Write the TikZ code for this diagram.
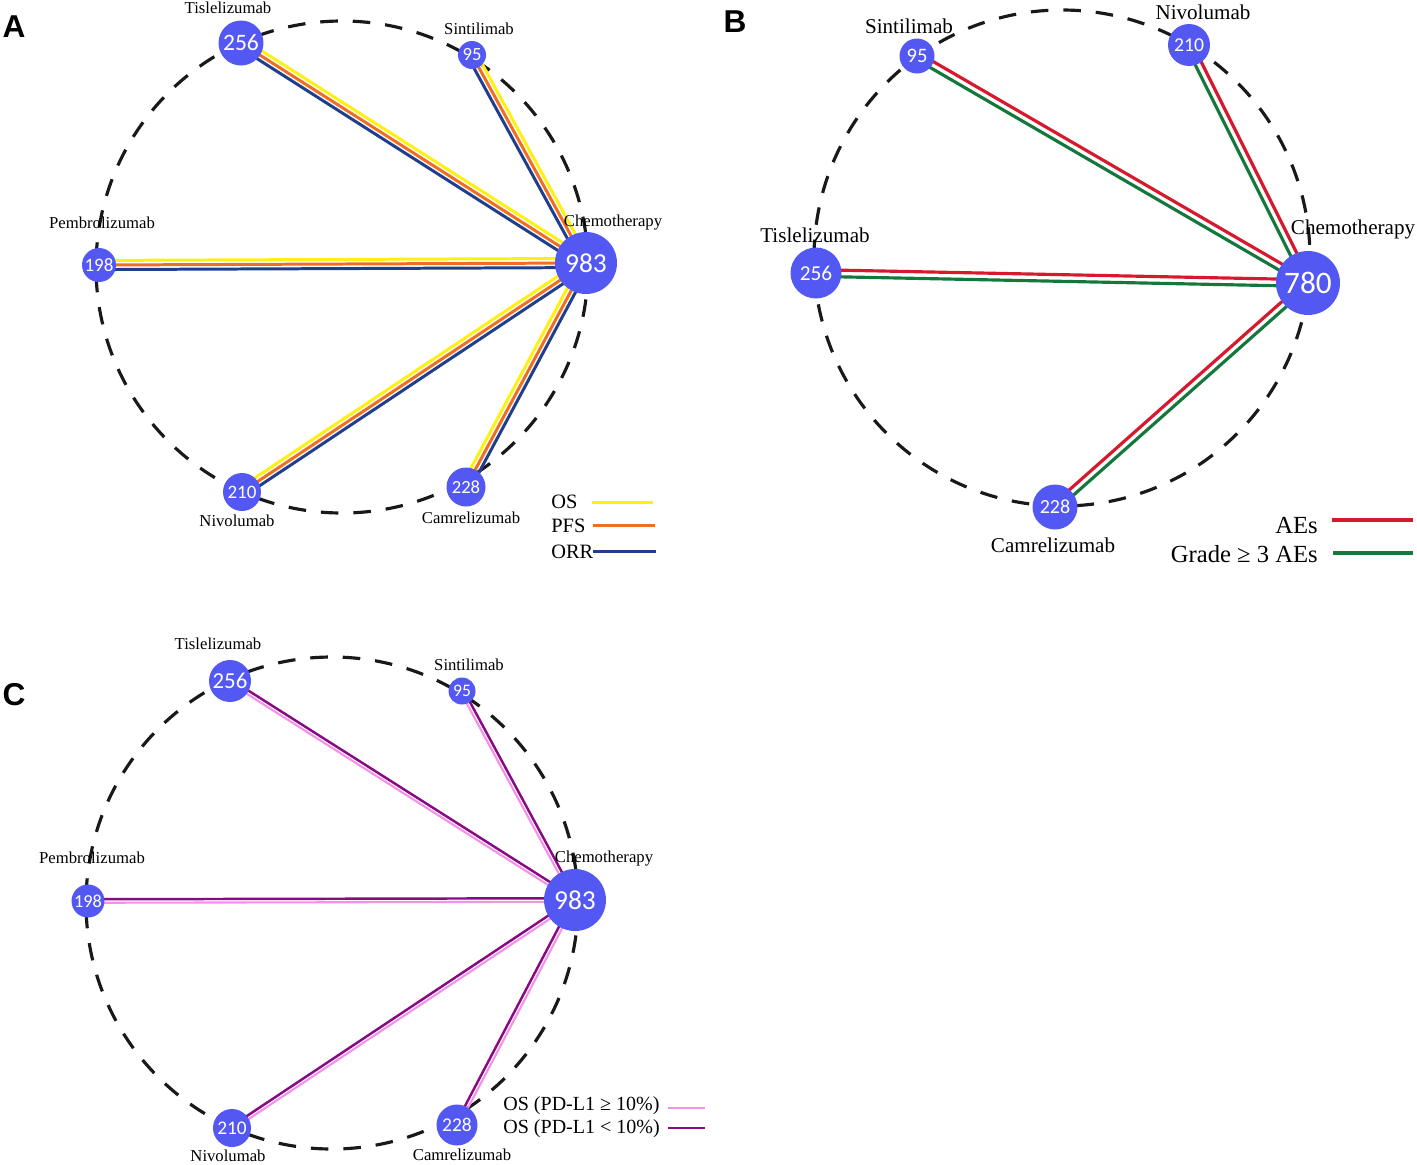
\documentclass[tikz,border=0pt]{standalone}
\usepackage{fontspec}
\setmainfont{Liberation Serif}
\newfontfamily\numfont{Carlito}
\newfontfamily\panelfont{Liberation Sans}
\usetikzlibrary{calc,positioning,backgrounds}

\definecolor{nodeblue}{RGB}{84,88,242}
\definecolor{osyellow}{RGB}{255,240,20}
\definecolor{pfsorange}{RGB}{240,110,35}
\definecolor{orrblue}{RGB}{32,62,140}
\definecolor{aered}{RGB}{215,25,45}
\definecolor{gradegreen}{RGB}{20,120,60}
\definecolor{hipink}{RGB}{245,145,232}
\definecolor{lopurple}{RGB}{135,10,130}

\begin{document}
\begin{tikzpicture}[x=0.02cm, y=-0.02cm,
    arm/.style={circle, fill=nodeblue, text=white, inner sep=0pt, minimum size=#1},
    num/.style={font=\numfont\fontsize{#1}{#1}\selectfont},
    drug/.style={font=\fontsize{#1}{#1}\selectfont},
    key/.style={font=\fontsize{#1}{#1}\selectfont, inner sep=0pt},
    panel/.style={font=\panelfont\bfseries\fontsize{18}{18}\selectfont},
    ring/.style={draw=black!90, line width=1.8pt, dash pattern=on 10pt off 8.5pt},
    os/.style={draw=osyellow, line width=1.7pt},
    pfs/.style={draw=pfsorange, line width=1.7pt},
    orr/.style={draw=orrblue, line width=1.7pt},
    ae/.style={draw=aered, line width=1.8pt},
    gr3/.style={draw=gradegreen, line width=1.8pt},
    hi/.style={draw=hipink, line width=1.2pt},
    lo/.style={draw=lopurple, line width=1.4pt}]
    \useasboundingbox (0,0) rectangle (1417,1164);

    % panel A
    \node[panel] (lA) at (14,27) {A};
    \node[arm=12.4mm, num=15.6] (chemoA) at (586,263) {983};
    \node[arm=9mm, num=13.4] (tislA) at (241,43) {256};
    \node[arm=5.6mm, num=10.6] (sintA) at (472,55) {95};
    \node[arm=6.8mm, num=10.8] (pemA) at (99,265) {198};
    \node[arm=7.6mm, num=10.8] (nivA) at (242,492) {210};
    \node[arm=7.8mm, num=10.6] (camA) at (466,487) {228};
    \node[drug=9.5] at (228,8) {Tislelizumab};
    \node[drug=9.5] at (479,29) {Sintilimab};
    \node[drug=9.5] at (102,223) {Pembrolizumab};
    \node[drug=9.5] at (613,223) {Chemotherapy};
    \node[drug=9.5] at (237,521) {Nivolumab};
    \node[drug=9.5] at (471,518) {Camrelizumab};

    \node[key=11.6, anchor=west] (osA) at (551,502) {OS};
    \node[key=11.6, anchor=west] (pfsA) at (551,526) {PFS};
    \node[key=11.6, anchor=west] (orrA) at (551,552) {ORR};
    \draw[os] (592,502) -- (653,502);
    \draw[pfs] (593,525) -- (655,525);
    \draw[orr] (593,551) -- (656,551);

    % panel B
    \node[panel] (lB) at (735,22) {B};
    \node[arm=12.8mm, num=17.8] (chemoB) at (1308,283) {780};
    \node[arm=10.2mm, num=12.1] (tislB) at (816,273) {256};
    \node[arm=7mm, num=11.7] (sintB) at (917,56) {95};
    \node[arm=8.4mm, num=11.2] (nivB) at (1189,45) {210};
    \node[arm=9mm, num=11.4] (camB) at (1055,507) {228};
    \node[drug=12] at (909,26) {Sintilimab};
    \node[drug=12] at (1203,12) {Nivolumab};
    \node[drug=12] at (815,235) {Tislelizumab};
    \node[drug=12] at (1353,229) {Chemotherapy};
    \node[drug=12] at (1053,545) {Camrelizumab};

    \node[key=14, anchor=east] (aeB) at (1318,525) {AEs};
    \node[key=14, anchor=east] (gradeB) at (1318,554) {Grade ≥ 3 AEs};
    \draw[ae] (1332,520) -- (1413,520);
    \draw[gr3] (1333,553) -- (1413,553);

    % panel C
    \node[panel] (lC) at (14,695) {C};
    \node[arm=12.4mm, num=15.6] (chemoC) at (575,900) {983};
    \node[arm=8.4mm, num=13] (tislC) at (230,681) {256};
    \node[arm=5.4mm, num=10] (sintC) at (462,691) {95};
    \node[arm=6.6mm, num=10.4] (pemC) at (88,901) {198};
    \node[arm=7.6mm, num=11] (nivC) at (232,1128) {210};
    \node[arm=8.2mm, num=11.1] (camC) at (457,1125) {228};
    \node[drug=9.5] at (218,644) {Tislelizumab};
    \node[drug=9.5] at (469,665) {Sintilimab};
    \node[drug=9.5] at (92,858) {Pembrolizumab};
    \node[drug=9.5] at (604,858) {Chemotherapy};
    \node[drug=9.5] at (228,1156) {Nivolumab};
    \node[drug=9.5] at (462,1155) {Camrelizumab};

    \node[key=11.4, anchor=west] (hiC) at (503,1106) {OS (PD-L1 ≥ 10\%)};
    \node[key=11.4, anchor=west] (loC) at (503,1129) {OS (PD-L1 < 10\%)};
    \draw[hi] (668,1108) -- (705,1108);
    \draw[lo] (668,1128) -- (705,1128);

    \begin{scope}[on background layer]
        \draw[ring] (342,267) circle [radius=246];
        \draw[ring] (1062,258) circle [radius=248];
        \draw[ring] (332,903) circle [radius=246];

        \foreach \n in {tislA,sintA,pemA,nivA,camA}{
            \draw[os] ($(\n)!2.6pt!90:(chemoA)$) -- ($(chemoA)!2.6pt!-90:(\n)$);
            \draw[pfs] (\n.center) -- (chemoA.center);
            \draw[orr] ($(\n)!2.6pt!-90:(chemoA)$) -- ($(chemoA)!2.6pt!90:(\n)$);
        }
        \foreach \n in {sintB,nivB,tislB,camB}{
            \draw[ae] ($(\n)!1.9pt!90:(chemoB)$) -- ($(chemoB)!1.9pt!-90:(\n)$);
            \draw[gr3] ($(\n)!1.9pt!-90:(chemoB)$) -- ($(chemoB)!1.9pt!90:(\n)$);
        }
        \foreach \n in {tislC,sintC,pemC,nivC,camC}{
            \draw[lo] ($(\n)!1pt!90:(chemoC)$) -- ($(chemoC)!1pt!-90:(\n)$);
            \draw[hi] ($(\n)!1pt!-90:(chemoC)$) -- ($(chemoC)!1pt!90:(\n)$);
        }
    \end{scope}
\end{tikzpicture}
\end{document}
